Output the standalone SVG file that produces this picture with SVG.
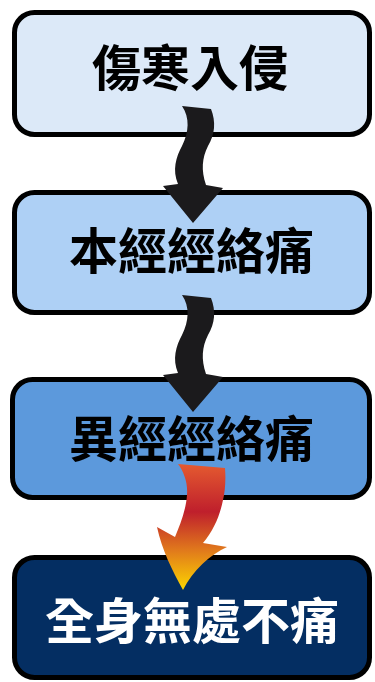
<svg xmlns="http://www.w3.org/2000/svg" width="375" height="682" viewBox="0 0 375 682">
<defs>
<style>
.box{stroke:#000;stroke-width:5}
.lbl{font-family:"Noto Sans CJK TC","Noto Sans CJK SC",serif;font-weight:bold;font-size:49px;text-anchor:middle}
</style>
<linearGradient id="fire" x1="0" y1="464" x2="0" y2="590" gradientUnits="userSpaceOnUse">
<stop offset="0" stop-color="#e45a30"/>
<stop offset="0.38" stop-color="#bf1f2c"/>
<stop offset="0.68" stop-color="#e0781c"/>
<stop offset="1" stop-color="#fcd600"/>
</linearGradient>
</defs>
<g id="node1"><rect class="box" x="14.5" y="12.5" width="355" height="122" rx="20" fill="#dce9f8"/><text class="lbl" x="190" y="86" fill="#000">傷寒入侵</text></g>
<g id="node2"><rect class="box" x="14.5" y="192.5" width="355" height="120" rx="20" fill="#aed0f5"/><text class="lbl" x="191.5" y="269" fill="#000">本經經絡痛</text></g>
<g id="node3"><rect class="box" x="12.5" y="379.5" width="357" height="118" rx="20" fill="#5c99dc"/><text class="lbl" x="191.5" y="457" fill="#000">異經經絡痛</text></g>
<g id="node4"><rect class="box" x="14.5" y="557.5" width="355" height="120" rx="20" fill="#042e62"/><text class="lbl" x="192" y="639" fill="#fff">全身無處不痛</text></g>
<g id="connectors">
<path id="c1" fill="#1b1a1c" d="M182 106 L211 109 C216 122 215 134 208 146 C202 158 201 170 206 185 L223 188 L193 223 L163 186 L178 184 C172 170 176 157 182 146 C189 132 190 118 182 106 Z"/>
<path id="c2" fill="#1b1a1c" transform="translate(0,189)" d="M182 106 L211 109 C216 122 215 134 208 146 C202 158 201 170 206 185 L223 188 L193 223 L163 186 L178 184 C172 170 176 157 182 146 C189 132 190 118 182 106 Z"/>
<path id="c3" fill="url(#fire)" d="M178 464 L225 468 C226 480 225 492 223 500 C220 515 214 530 203 543 L227 547 C210 555 193 570 183 590 C172 570 162 550 157 527 L175 537 C180 525 186 510 187 495 C188 483 184 472 178 464 Z"/>
</g>
</svg>
